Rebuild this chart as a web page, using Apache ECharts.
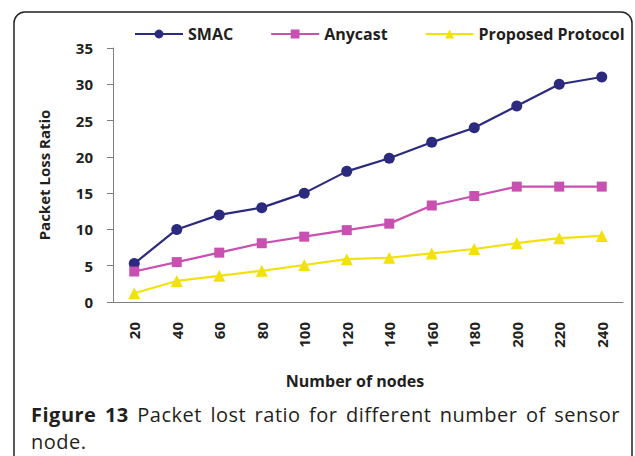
<!DOCTYPE html>
<html>
<head>
<meta charset="utf-8">
<script src="https://cdn.jsdelivr.net/npm/echarts@6/dist/echarts.min.js"></script>
<style>
  html, body { margin: 0; padding: 0; background: #fff; }
  #wrap { position: relative; width: 635px; height: 456px; overflow: hidden; }
  #chart { width: 635px; height: 456px; }
  .caption {
    position: absolute;
    left: 31px;
    width: 589px;
    font-family: "Open Sans", "Noto Sans", sans-serif;
    font-size: 20px;
    line-height: 27px;
    letter-spacing: 0.5px;
    color: #231f20;
    white-space: nowrap;
  }
  .l1 { top: 401px; text-align: justify; text-align-last: justify; }
  .l2 { top: 428px; }
  .b { font-weight: bold; }
</style>
</head>
<body>
<div id="wrap">
  <div id="chart"></div>
  <div class="caption l1"><span class="b">Figure 13</span> <span>Packet lost ratio for different number of sensor</span></div>
  <div class="caption l2">node.</div>
</div>
<script>
  // number of nodes
  var nodes = ['20', '40', '60', '80', '100', '120', '140', '160', '180', '200', '220', '240']
  // packet loss ratio per protocol
  var smac = [5.3, 10, 12, 13, 15, 18, 19.8, 22, 24, 27, 30, 31]
  var anycast = [4.2, 5.5, 6.8, 8.1, 9, 9.9, 10.8, 13.3, 14.6, 15.9, 15.9, 15.9]
  var proposed = [1.2, 2.9, 3.6, 4.3, 5.1, 5.9, 6.1, 6.7, 7.3, 8.1, 8.8, 9.1]

  var font = '"Open Sans", "Noto Sans", sans-serif'
  var myChart = echarts.init(document.getElementById('chart'), null, {renderer: 'svg'})

  function line(name, data, color, symbol, size) {
    return {
      name: name,
      type: 'line',
      data: data,
      symbol: symbol,
      symbolSize: size,
      lineStyle: { color: color, width: 2.2 },
      itemStyle: { color: color },
      animation: false
    }
  }

  var option = {
    backgroundColor: '#fff',
    graphic: [{
      type: 'rect',
      shape: { x: 14, y: 12, width: 618, height: 480, r: 11 },
      style: { fill: 'none', stroke: '#222', lineWidth: 1.5 },
      silent: true
    }],
    legend: {
      left: 134,
      top: 26,
      padding: 0,
      itemGap: 37,
      itemWidth: 48,
      itemHeight: 11,
      textStyle: { fontFamily: font, fontSize: 16, fontWeight: 'bold', color: '#231f20' },
      data: ['SMAC', 'Anycast', 'Proposed Protocol']
    },
    grid: { left: 113, right: 12, top: 48, bottom: 154 },
    xAxis: {
      type: 'category',
      data: nodes,
      name: 'Number of nodes',
      nameLocation: 'middle',
      nameGap: 71,
      nameTextStyle: { fontFamily: font, fontSize: 16, fontWeight: 'bold', color: '#231f20', padding: [0, 26, 0, 0] },
      axisLine: { lineStyle: { color: '#7f7f7f', width: 1 } },
      axisTick: { length: 5, lineStyle: { color: '#7f7f7f' } },
      axisLabel: { rotate: 90, margin: 20, fontFamily: font, fontSize: 15, fontWeight: 'bold', color: '#231f20' }
    },
    yAxis: {
      type: 'value',
      min: 0,
      max: 35,
      interval: 5,
      name: 'Packet Loss Ratio',
      nameLocation: 'middle',
      nameGap: 62,
      nameTextStyle: { fontFamily: font, fontSize: 15, fontWeight: 'bold', color: '#231f20' },
      splitLine: { show: false },
      axisLine: { show: true, lineStyle: { color: '#7f7f7f', width: 1 } },
      axisTick: { show: true, length: 6, lineStyle: { color: '#7f7f7f' } },
      axisLabel: { margin: 20, fontFamily: font, fontSize: 15, fontWeight: 'bold', color: '#231f20' }
    },
    series: [
      line('SMAC', smac, '#2c2a7e', 'circle', 11),
      line('Anycast', anycast, '#c850b0', 'rect', 10),
      line('Proposed Protocol', proposed, '#f3e10c', 'triangle', 12)
    ]
  }
  myChart.setOption(option)
</script>
</body>
</html>
